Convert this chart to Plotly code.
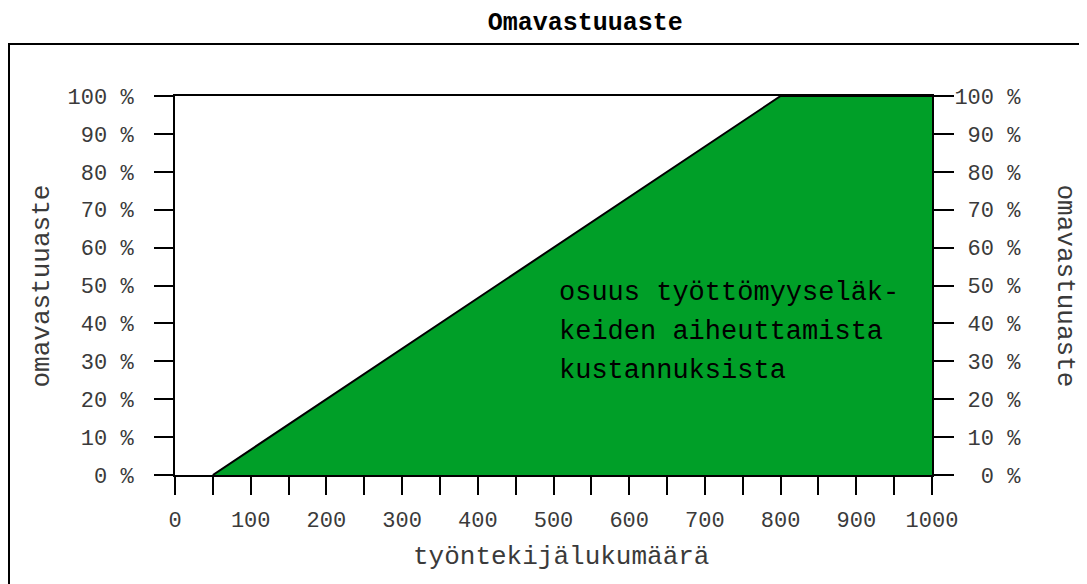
import plotly.graph_objects as go  # libreria para graficar

# -- ------------------------------------------------------------ DATOS -- #
tyontekijat = [50, 800, 1000]        # työntekijälukumäärä
omavastuu = [0, 100, 100]            # omavastuuaste (%)

x_tickvals = [0, 50, 100, 150, 200, 250, 300, 350, 400, 450, 500,
              550, 600, 650, 700, 750, 800, 850, 900, 950, 1000]
x_ticktext = ['0', '', '100', '', '200', '', '300', '', '400', '', '500',
              '', '600', '', '700', '', '800', '', '900', '', '1000']
y_tickvals = [0, 10, 20, 30, 40, 50, 60, 70, 80, 90, 100]
y_ticktext = ['0 %', '10 %', '20 %', '30 %', '40 %', '50 %',
              '60 %', '70 %', '80 %', '90 %', '100 %']
# oikean puolen tekstit tasattu oikealle
y_ticktext_r = [t.rjust(5, '\u00a0') for t in y_ticktext]

teksti_rivit = ['osuus työttömyyseläk-', 'keiden aiheuttamista', 'kustannuksista']

# -- ------------------------------------------------------------ GRAFIIKKA -- #
MONO = "Liberation Mono, Courier New, monospace"
VIHREA = '#009f28'
HARMAA = '#3a3a3a'

fig = go.Figure()
fig.add_trace(go.Scatter(x=tyontekijat, y=omavastuu, mode='lines', fill='tozeroy',
                         fillcolor=VIHREA, line=dict(color='black', width=2),
                         hoverinfo='skip', showlegend=False))
# oikea akseli tarvitsee jäljen
fig.add_trace(go.Scatter(x=tyontekijat, y=omavastuu, yaxis='y2', mode='lines',
                         line=dict(width=0), opacity=0, hoverinfo='skip', showlegend=False))

akseli = dict(showline=True, linecolor='black', linewidth=2, ticks='outside',
              tickcolor='black', tickwidth=2, showgrid=False, zeroline=False,
              tickfont=dict(family=MONO, size=22, color=HARMAA))

# sivun body-marginaali (8 px) huomioitu koossa
fig.update_layout(
    width=1079, height=576,
    margin=dict(l=167, r=155, t=88, b=109),
    paper_bgcolor='white', plot_bgcolor='white',
    title=dict(text='<b>Omavastuuaste</b>', x=0.535, xanchor='center',
               y=1 - 13 / 576, yanchor='middle', yref='container',
               font=dict(family=MONO, size=25, color='black')),
    xaxis=dict(range=[0, 1000], tickmode='array', tickvals=x_tickvals, ticktext=x_ticktext,
               ticklen=18, ticklabelstandoff=6, mirror=True, **akseli),
    yaxis=dict(range=[0, 100], tickmode='array', tickvals=y_tickvals, ticktext=y_ticktext,
               ticklen=19, ticklabelstandoff=16, **akseli),
    yaxis2=dict(range=[0, 100], overlaying='y', side='right', tickmode='array',
                tickvals=y_tickvals, ticktext=y_ticktext_r, ticklen=20,
                ticklabelstandoff=-4, **akseli),
)

# reunat kuvan ympärillä
fig.add_shape(type='rect', xref='paper', yref='paper', x0=(9 - 175) / 757, x1=1.35,
              y0=-0.5, y1=(475 - 44) / 379, line=dict(color='black', width=2))

# akselien otsikot
fig.add_annotation(text='omavastuuaste', xref='paper', yref='paper', x=-0.1757, y=0.5,
                   xanchor='center', yanchor='middle', textangle=-90, showarrow=False,
                   font=dict(family=MONO, size=26, color=HARMAA))
fig.add_annotation(text='omavastuuaste', xref='paper', yref='paper', x=1.1757, y=0.5,
                   xanchor='center', yanchor='middle', textangle=90, showarrow=False,
                   font=dict(family=MONO, size=26, color=HARMAA))
fig.add_annotation(text='työntekijälukumäärä', xref='paper', yref='paper', x=0.51, y=-0.216,
                   xanchor='center', yanchor='middle', showarrow=False,
                   font=dict(family=MONO, size=26, color=HARMAA))

# selite kuvan sisällä
for rivi, ypos in zip(teksti_rivit, [48, 37.7, 27.4]):
    fig.add_annotation(text=rivi, x=505, y=ypos, xanchor='left', yanchor='middle',
                       showarrow=False, font=dict(family=MONO, size=27, color='black'))

fig.write_html("out.html")
